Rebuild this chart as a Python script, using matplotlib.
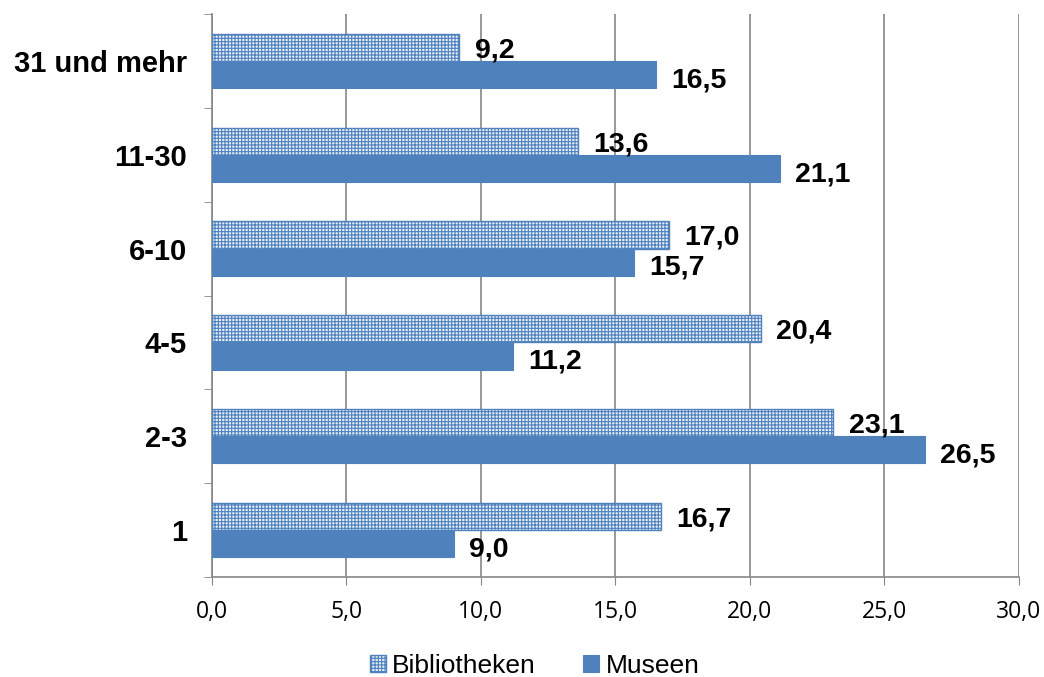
import numpy as np
import matplotlib.pyplot as plt

categories = ['1', '2-3', '4-5', '6-10', '11-30', '31 und mehr']
bibliotheken = [16.7, 23.1, 20.4, 17.0, 13.6, 9.2]
museen = [9.0, 26.5, 11.2, 15.7, 21.1, 16.5]
xticks = [0, 5, 10, 15, 20, 25, 30]

plt.rcParams['font.family'] = ['Liberation Sans', 'DejaVu Sans']
plt.rcParams['hatch.color'] = '#b3c9e8'
plt.rcParams['hatch.linewidth'] = 0.8

fig = plt.figure(figsize=(10.44, 6.77), dpi=100)
ax = fig.add_axes([0.203, 0.148, 0.773, 0.831])

y = np.arange(len(categories))
h = 0.29
b1 = ax.barh(y + h/2, bibliotheken, height=h, color='#e4ecf7', edgecolor='#4f81bd',
             linewidth=1.0, hatch='+++++', label='Bibliotheken', zorder=3)
b2 = ax.barh(y - h/2, museen, height=h, color='#4f81bd', edgecolor='#4f81bd',
             linewidth=0.8, label='Museen', zorder=3)

def fmt(v):
    return ('%.1f' % v).replace('.', ',')

# value labels right of each bar
for yy, v in zip(y + h/2, bibliotheken):
    ax.annotate(fmt(v), (v, yy), xytext=(11, -2), textcoords='offset points',
                va='center', ha='left', fontsize=20.5, fontweight='bold')
for yy, v in zip(y - h/2, museen):
    ax.annotate(fmt(v), (v, yy), xytext=(11, -4), textcoords='offset points',
                va='center', ha='left', fontsize=20.5, fontweight='bold')

ax.set_xlim(0, 30)
ax.set_ylim(-0.5, len(categories) - 0.5)
ax.set_xticks(xticks)
ax.set_xticklabels([fmt(t) for t in xticks], fontsize=16.5, family=['Open Sans', 'DejaVu Sans'])
ax.set_yticks(y)
ax.set_yticklabels(categories, fontsize=21, fontweight='bold')
ax.tick_params(axis='y', length=0, pad=18)
ax.set_yticks(np.arange(-0.5, len(categories)), minor=True)
ax.tick_params(axis='y', which='minor', length=6, color='#868686')
ax.tick_params(axis='x', length=6, color='#868686', pad=11)

ax.grid(axis='x', color='#868686', linewidth=1.2, zorder=0)
for s in ['top', 'right']:
    ax.spines[s].set_visible(False)
for s in ['left', 'bottom']:
    ax.spines[s].set_color('#868686')
    ax.spines[s].set_linewidth(1.2)

ax.legend(loc='upper center', bbox_to_anchor=(0.40, -0.095), ncol=2, frameon=False,
          fontsize=19, handlelength=0.6, handleheight=0.6, handletextpad=0.25,
          columnspacing=1.8)

fig.savefig('out.png', dpi=100)
